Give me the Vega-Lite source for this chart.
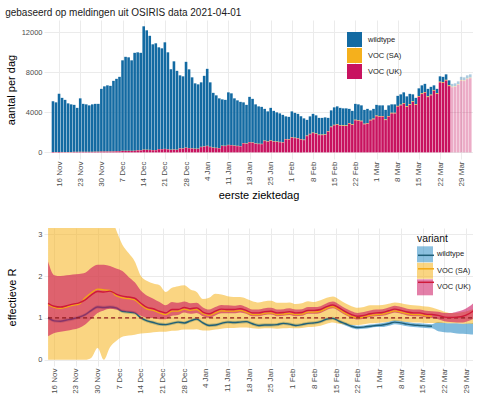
{
"$schema": "https://vega.github.io/schema/vega-lite/v6.json",
"padding": {"left": 5, "top": 8, "right": 0, "bottom": 0},
"config": {
  "font": "Liberation Sans",
  "view": {"stroke": null},
  "axis": {"grid": true, "gridColor": "#ebebeb", "gridWidth": 1, "domain": false, "ticks": false, "labelColor": "#4d4d4d", "labelFontSize": 7.5, "labelPadding": 2, "labelOverlap": false, "titleFontSize": 11, "titleFontWeight": "normal", "titleColor": "#000000"},
  "axisX": {"labelFontSize": 8},
  "legend": {"labelFontSize": 7.5, "labelColor": "#222222", "padding": 0}
},
"spacing": 27,
"resolve": {"scale": {"color": "independent", "fill": "independent", "stroke": "independent"}, "legend": {"color": "independent", "fill": "independent", "stroke": "independent"}},
"datasets": {
"bars": [
{"d":"2020-11-14","wildtype":5059,"VOC (SA)":10,"VOC (UK)":31},
{"d":"2020-11-15","wildtype":4960,"VOC (SA)":10,"VOC (UK)":30},
{"d":"2020-11-16","wildtype":5805,"VOC (SA)":10,"VOC (UK)":35},
{"d":"2020-11-17","wildtype":5407,"VOC (SA)":10,"VOC (UK)":33},
{"d":"2020-11-18","wildtype":5208,"VOC (SA)":10,"VOC (UK)":32},
{"d":"2020-11-19","wildtype":4861,"VOC (SA)":10,"VOC (UK)":29},
{"d":"2020-11-20","wildtype":4761,"VOC (SA)":10,"VOC (UK)":29},
{"d":"2020-11-21","wildtype":4692,"VOC (SA)":10,"VOC (UK)":48},
{"d":"2020-11-22","wildtype":4395,"VOC (SA)":10,"VOC (UK)":45},
{"d":"2020-11-23","wildtype":5336,"VOC (SA)":10,"VOC (UK)":54},
{"d":"2020-11-24","wildtype":4791,"VOC (SA)":10,"VOC (UK)":49},
{"d":"2020-11-25","wildtype":4742,"VOC (SA)":10,"VOC (UK)":48},
{"d":"2020-11-26","wildtype":4643,"VOC (SA)":10,"VOC (UK)":47},
{"d":"2020-11-27","wildtype":4742,"VOC (SA)":10,"VOC (UK)":48},
{"d":"2020-11-28","wildtype":4777,"VOC (SA)":15,"VOC (UK)":58},
{"d":"2020-11-29","wildtype":4777,"VOC (SA)":15,"VOC (UK)":58},
{"d":"2020-11-30","wildtype":6259,"VOC (SA)":15,"VOC (UK)":76},
{"d":"2020-12-01","wildtype":6506,"VOC (SA)":15,"VOC (UK)":79},
{"d":"2020-12-02","wildtype":6605,"VOC (SA)":15,"VOC (UK)":80},
{"d":"2020-12-03","wildtype":6555,"VOC (SA)":15,"VOC (UK)":80},
{"d":"2020-12-04","wildtype":7049,"VOC (SA)":15,"VOC (UK)":86},
{"d":"2020-12-05","wildtype":7225,"VOC (SA)":15,"VOC (UK)":110},
{"d":"2020-12-06","wildtype":7422,"VOC (SA)":15,"VOC (UK)":113},
{"d":"2020-12-07","wildtype":9047,"VOC (SA)":15,"VOC (UK)":138},
{"d":"2020-12-08","wildtype":9392,"VOC (SA)":15,"VOC (UK)":143},
{"d":"2020-12-09","wildtype":9342,"VOC (SA)":15,"VOC (UK)":143},
{"d":"2020-12-10","wildtype":9047,"VOC (SA)":15,"VOC (UK)":138},
{"d":"2020-12-11","wildtype":9786,"VOC (SA)":15,"VOC (UK)":149},
{"d":"2020-12-12","wildtype":9780,"VOC (SA)":20,"VOC (UK)":200},
{"d":"2020-12-13","wildtype":9731,"VOC (SA)":20,"VOC (UK)":199},
{"d":"2020-12-14","wildtype":12328,"VOC (SA)":20,"VOC (UK)":252},
{"d":"2020-12-15","wildtype":11936,"VOC (SA)":20,"VOC (UK)":244},
{"d":"2020-12-16","wildtype":11397,"VOC (SA)":20,"VOC (UK)":233},
{"d":"2020-12-17","wildtype":10564,"VOC (SA)":20,"VOC (UK)":216},
{"d":"2020-12-18","wildtype":10662,"VOC (SA)":20,"VOC (UK)":218},
{"d":"2020-12-19","wildtype":10165,"VOC (SA)":20,"VOC (UK)":315},
{"d":"2020-12-20","wildtype":10068,"VOC (SA)":20,"VOC (UK)":312},
{"d":"2020-12-21","wildtype":10650,"VOC (SA)":20,"VOC (UK)":330},
{"d":"2020-12-22","wildtype":9680,"VOC (SA)":20,"VOC (UK)":300},
{"d":"2020-12-23","wildtype":8031,"VOC (SA)":20,"VOC (UK)":249},
{"d":"2020-12-24","wildtype":8807,"VOC (SA)":20,"VOC (UK)":273},
{"d":"2020-12-25","wildtype":7885,"VOC (SA)":20,"VOC (UK)":245},
{"d":"2020-12-26","wildtype":7290,"VOC (SA)":25,"VOC (UK)":385},
{"d":"2020-12-27","wildtype":7195,"VOC (SA)":25,"VOC (UK)":380},
{"d":"2020-12-28","wildtype":8572,"VOC (SA)":25,"VOC (UK)":453},
{"d":"2020-12-29","wildtype":7860,"VOC (SA)":25,"VOC (UK)":415},
{"d":"2020-12-30","wildtype":7100,"VOC (SA)":25,"VOC (UK)":375},
{"d":"2020-12-31","wildtype":6530,"VOC (SA)":25,"VOC (UK)":345},
{"d":"2021-01-01","wildtype":6435,"VOC (SA)":25,"VOC (UK)":340},
{"d":"2021-01-02","wildtype":6445,"VOC (SA)":30,"VOC (UK)":525},
{"d":"2021-01-03","wildtype":7046,"VOC (SA)":30,"VOC (UK)":574},
{"d":"2021-01-04","wildtype":7694,"VOC (SA)":30,"VOC (UK)":626},
{"d":"2021-01-05","wildtype":6445,"VOC (SA)":30,"VOC (UK)":525},
{"d":"2021-01-06","wildtype":5474,"VOC (SA)":30,"VOC (UK)":446},
{"d":"2021-01-07","wildtype":5242,"VOC (SA)":30,"VOC (UK)":428},
{"d":"2021-01-08","wildtype":4965,"VOC (SA)":30,"VOC (UK)":405},
{"d":"2021-01-09","wildtype":4634,"VOC (SA)":30,"VOC (UK)":636},
{"d":"2021-01-10","wildtype":4590,"VOC (SA)":30,"VOC (UK)":630},
{"d":"2021-01-11","wildtype":5250,"VOC (SA)":30,"VOC (UK)":720},
{"d":"2021-01-12","wildtype":5162,"VOC (SA)":30,"VOC (UK)":708},
{"d":"2021-01-13","wildtype":4722,"VOC (SA)":30,"VOC (UK)":648},
{"d":"2021-01-14","wildtype":4546,"VOC (SA)":30,"VOC (UK)":624},
{"d":"2021-01-15","wildtype":4414,"VOC (SA)":30,"VOC (UK)":606},
{"d":"2021-01-16","wildtype":4065,"VOC (SA)":35,"VOC (UK)":900},
{"d":"2021-01-17","wildtype":3860,"VOC (SA)":35,"VOC (UK)":855},
{"d":"2021-01-18","wildtype":4516,"VOC (SA)":35,"VOC (UK)":999},
{"d":"2021-01-19","wildtype":4352,"VOC (SA)":35,"VOC (UK)":963},
{"d":"2021-01-20","wildtype":3901,"VOC (SA)":35,"VOC (UK)":864},
{"d":"2021-01-21","wildtype":3737,"VOC (SA)":35,"VOC (UK)":828},
{"d":"2021-01-22","wildtype":3696,"VOC (SA)":35,"VOC (UK)":819},
{"d":"2021-01-23","wildtype":3179,"VOC (SA)":40,"VOC (UK)":1131},
{"d":"2021-01-24","wildtype":2994,"VOC (SA)":40,"VOC (UK)":1066},
{"d":"2021-01-25","wildtype":3253,"VOC (SA)":40,"VOC (UK)":1157},
{"d":"2021-01-26","wildtype":3031,"VOC (SA)":40,"VOC (UK)":1079},
{"d":"2021-01-27","wildtype":2920,"VOC (SA)":40,"VOC (UK)":1040},
{"d":"2021-01-28","wildtype":2846,"VOC (SA)":40,"VOC (UK)":1014},
{"d":"2021-01-29","wildtype":2735,"VOC (SA)":40,"VOC (UK)":975},
{"d":"2021-01-30","wildtype":2259,"VOC (SA)":45,"VOC (UK)":1296},
{"d":"2021-01-31","wildtype":2227,"VOC (SA)":45,"VOC (UK)":1278},
{"d":"2021-02-01","wildtype":2579,"VOC (SA)":45,"VOC (UK)":1476},
{"d":"2021-02-02","wildtype":2483,"VOC (SA)":45,"VOC (UK)":1422},
{"d":"2021-02-03","wildtype":2419,"VOC (SA)":45,"VOC (UK)":1386},
{"d":"2021-02-04","wildtype":2259,"VOC (SA)":45,"VOC (UK)":1296},
{"d":"2021-02-05","wildtype":2131,"VOC (SA)":45,"VOC (UK)":1224},
{"d":"2021-02-06","wildtype":1575,"VOC (SA)":50,"VOC (UK)":1625},
{"d":"2021-02-07","wildtype":1750,"VOC (SA)":50,"VOC (UK)":1800},
{"d":"2021-02-08","wildtype":1875,"VOC (SA)":50,"VOC (UK)":1925},
{"d":"2021-02-09","wildtype":1800,"VOC (SA)":50,"VOC (UK)":1850},
{"d":"2021-02-10","wildtype":1675,"VOC (SA)":50,"VOC (UK)":1725},
{"d":"2021-02-11","wildtype":1675,"VOC (SA)":50,"VOC (UK)":1725},
{"d":"2021-02-12","wildtype":1700,"VOC (SA)":50,"VOC (UK)":1750},
{"d":"2021-02-13","wildtype":1325,"VOC (SA)":55,"VOC (UK)":2070},
{"d":"2021-02-14","wildtype":1625,"VOC (SA)":55,"VOC (UK)":2520},
{"d":"2021-02-15","wildtype":1745,"VOC (SA)":55,"VOC (UK)":2700},
{"d":"2021-02-16","wildtype":1785,"VOC (SA)":55,"VOC (UK)":2760},
{"d":"2021-02-17","wildtype":1725,"VOC (SA)":55,"VOC (UK)":2670},
{"d":"2021-02-18","wildtype":1705,"VOC (SA)":55,"VOC (UK)":2640},
{"d":"2021-02-19","wildtype":1705,"VOC (SA)":55,"VOC (UK)":2640},
{"d":"2021-02-20","wildtype":1419,"VOC (SA)":60,"VOC (UK)":2871},
{"d":"2021-02-21","wildtype":1351,"VOC (SA)":60,"VOC (UK)":2739},
{"d":"2021-02-22","wildtype":1589,"VOC (SA)":60,"VOC (UK)":3201},
{"d":"2021-02-23","wildtype":1572,"VOC (SA)":60,"VOC (UK)":3168},
{"d":"2021-02-24","wildtype":1538,"VOC (SA)":60,"VOC (UK)":3102},
{"d":"2021-02-25","wildtype":1385,"VOC (SA)":60,"VOC (UK)":2805},
{"d":"2021-02-26","wildtype":1419,"VOC (SA)":60,"VOC (UK)":2871},
{"d":"2021-02-27","wildtype":943,"VOC (SA)":65,"VOC (UK)":3192},
{"d":"2021-02-28","wildtype":979,"VOC (SA)":65,"VOC (UK)":3306},
{"d":"2021-03-01","wildtype":1075,"VOC (SA)":65,"VOC (UK)":3610},
{"d":"2021-03-02","wildtype":1063,"VOC (SA)":65,"VOC (UK)":3572},
{"d":"2021-03-03","wildtype":1063,"VOC (SA)":65,"VOC (UK)":3572},
{"d":"2021-03-04","wildtype":955,"VOC (SA)":65,"VOC (UK)":3230},
{"d":"2021-03-05","wildtype":1063,"VOC (SA)":65,"VOC (UK)":3572},
{"d":"2021-03-06","wildtype":842,"VOC (SA)":70,"VOC (UK)":3888},
{"d":"2021-03-07","wildtype":842,"VOC (SA)":70,"VOC (UK)":3888},
{"d":"2021-03-08","wildtype":1003,"VOC (SA)":70,"VOC (UK)":4577},
{"d":"2021-03-09","wildtype":1032,"VOC (SA)":70,"VOC (UK)":4698},
{"d":"2021-03-10","wildtype":1070,"VOC (SA)":70,"VOC (UK)":4860},
{"d":"2021-03-11","wildtype":994,"VOC (SA)":70,"VOC (UK)":4536},
{"d":"2021-03-12","wildtype":1041,"VOC (SA)":70,"VOC (UK)":4739},
{"d":"2021-03-13","wildtype":684,"VOC (SA)":70,"VOC (UK)":5046},
{"d":"2021-03-14","wildtype":638,"VOC (SA)":70,"VOC (UK)":4742},
{"d":"2021-03-15","wildtype":762,"VOC (SA)":70,"VOC (UK)":5568},
{"d":"2021-03-16","wildtype":801,"VOC (SA)":70,"VOC (UK)":5829},
{"d":"2021-03-17","wildtype":820,"VOC (SA)":70,"VOC (UK)":5960},
{"d":"2021-03-18","wildtype":755,"VOC (SA)":70,"VOC (UK)":5525},
{"d":"2021-03-19","wildtype":781,"VOC (SA)":70,"VOC (UK)":5699},
{"d":"2021-03-20","wildtype":461,"VOC (SA)":75,"VOC (UK)":6164},
{"d":"2021-03-21","wildtype":433,"VOC (SA)":75,"VOC (UK)":5842},
{"d":"2021-03-22","wildtype":533,"VOC (SA)":75,"VOC (UK)":6992},
{"d":"2021-03-23","wildtype":529,"VOC (SA)":75,"VOC (UK)":6946},
{"d":"2021-03-24","wildtype":549,"VOC (SA)":75,"VOC (UK)":7176},
{"d":"2021-03-25","wildtype":501,"VOC (SA)":75,"VOC (UK)":6624},
{"d":"2021-03-26","wildtype":272,"VOC (SA)":70,"VOC (UK)":6508,"inc":true},
{"d":"2021-03-27","wildtype":275,"VOC (SA)":70,"VOC (UK)":6555,"inc":true},
{"d":"2021-03-28","wildtype":285,"VOC (SA)":70,"VOC (UK)":6745,"inc":true},
{"d":"2021-03-29","wildtype":307,"VOC (SA)":70,"VOC (UK)":7173,"inc":true},
{"d":"2021-03-30","wildtype":305,"VOC (SA)":70,"VOC (UK)":7125,"inc":true},
{"d":"2021-03-31","wildtype":315,"VOC (SA)":70,"VOC (UK)":7315,"inc":true},
{"d":"2021-04-01","wildtype":320,"VOC (SA)":70,"VOC (UK)":7410,"inc":true}
],
"r": [
{"d":"2020-11-14","w":1.00,"wl":0.96,"wh":1.04,"s":1.32,"sl":0,"sh":3.6,"u":1.35,"ul":0.56,"uh":2.35},
{"d":"2020-11-16","w":0.93,"wl":0.89,"wh":0.97,"s":1.25,"sl":0,"sh":3.6,"u":1.28,"ul":0.64,"uh":2.02},
{"d":"2020-11-18","w":0.92,"wl":0.88,"wh":0.96,"s":1.23,"sl":0,"sh":3.6,"u":1.26,"ul":0.67,"uh":2.0},
{"d":"2020-11-20","w":0.95,"wl":0.91,"wh":0.99,"s":1.26,"sl":0,"sh":3.6,"u":1.29,"ul":0.69,"uh":2.02},
{"d":"2020-11-22","w":0.98,"wl":0.94,"wh":1.02,"s":1.30,"sl":0,"sh":3.6,"u":1.33,"ul":0.72,"uh":2.04},
{"d":"2020-11-24","w":1.02,"wl":0.98,"wh":1.06,"s":1.33,"sl":0,"sh":3.6,"u":1.36,"ul":0.76,"uh":2.05},
{"d":"2020-11-26","w":1.08,"wl":1.04,"wh":1.12,"s":1.48,"sl":0,"sh":3.6,"u":1.43,"ul":0.84,"uh":2.08},
{"d":"2020-11-28","w":1.18,"wl":1.14,"wh":1.22,"s":1.60,"sl":0.05,"sh":3.6,"u":1.55,"ul":0.98,"uh":2.2},
{"d":"2020-11-30","w":1.26,"wl":1.22,"wh":1.30,"s":1.69,"sl":0.28,"sh":3.6,"u":1.63,"ul":1.12,"uh":2.27},
{"d":"2020-12-02","w":1.25,"wl":1.21,"wh":1.29,"s":1.67,"sl":0,"sh":3.6,"u":1.62,"ul":1.18,"uh":2.27},
{"d":"2020-12-04","w":1.26,"wl":1.22,"wh":1.30,"s":1.66,"sl":0.3,"sh":3.5,"u":1.64,"ul":1.22,"uh":2.24},
{"d":"2020-12-06","w":1.24,"wl":1.20,"wh":1.28,"s":1.53,"sl":0.45,"sh":3.1,"u":1.57,"ul":1.2,"uh":2.18},
{"d":"2020-12-08","w":1.16,"wl":1.12,"wh":1.20,"s":1.48,"sl":0.55,"sh":2.75,"u":1.52,"ul":1.16,"uh":2.12},
{"d":"2020-12-10","w":1.14,"wl":1.10,"wh":1.18,"s":1.46,"sl":0.58,"sh":2.55,"u":1.50,"ul":1.15,"uh":1.98},
{"d":"2020-12-12","w":1.12,"wl":1.08,"wh":1.16,"s":1.43,"sl":0.6,"sh":2.35,"u":1.47,"ul":1.12,"uh":1.85},
{"d":"2020-12-14","w":1.00,"wl":0.96,"wh":1.04,"s":1.31,"sl":0.63,"sh":2.0,"u":1.35,"ul":1.05,"uh":1.65},
{"d":"2020-12-16","w":0.93,"wl":0.89,"wh":0.97,"s":1.21,"sl":0.64,"sh":1.88,"u":1.25,"ul":1.0,"uh":1.53},
{"d":"2020-12-18","w":0.89,"wl":0.85,"wh":0.93,"s":1.18,"sl":0.66,"sh":1.82,"u":1.22,"ul":1.0,"uh":1.46},
{"d":"2020-12-20","w":0.85,"wl":0.81,"wh":0.89,"s":1.12,"sl":0.67,"sh":1.78,"u":1.16,"ul":0.97,"uh":1.38},
{"d":"2020-12-22","w":0.84,"wl":0.80,"wh":0.88,"s":1.08,"sl":0.67,"sh":1.62,"u":1.12,"ul":0.97,"uh":1.30},
{"d":"2020-12-24","w":0.87,"wl":0.83,"wh":0.91,"s":1.16,"sl":0.69,"sh":1.72,"u":1.20,"ul":1.05,"uh":1.38},
{"d":"2020-12-26","w":0.90,"wl":0.86,"wh":0.94,"s":1.16,"sl":0.70,"sh":1.76,"u":1.20,"ul":1.07,"uh":1.36},
{"d":"2020-12-28","w":0.88,"wl":0.84,"wh":0.92,"s":1.21,"sl":0.72,"sh":1.78,"u":1.25,"ul":1.13,"uh":1.39},
{"d":"2020-12-30","w":0.93,"wl":0.89,"wh":0.97,"s":1.18,"sl":0.72,"sh":1.68,"u":1.22,"ul":1.10,"uh":1.35},
{"d":"2021-01-01","w":0.97,"wl":0.93,"wh":1.01,"s":1.20,"sl":0.73,"sh":1.62,"u":1.24,"ul":1.12,"uh":1.36},
{"d":"2021-01-03","w":0.88,"wl":0.84,"wh":0.92,"s":1.10,"sl":0.70,"sh":1.45,"u":1.14,"ul":1.04,"uh":1.25},
{"d":"2021-01-05","w":0.82,"wl":0.78,"wh":0.86,"s":1.06,"sl":0.70,"sh":1.48,"u":1.10,"ul":1.0,"uh":1.20},
{"d":"2021-01-07","w":0.83,"wl":0.79,"wh":0.87,"s":1.12,"sl":0.72,"sh":1.58,"u":1.16,"ul":1.06,"uh":1.26},
{"d":"2021-01-09","w":0.87,"wl":0.83,"wh":0.91,"s":1.17,"sl":0.74,"sh":1.56,"u":1.21,"ul":1.11,"uh":1.31},
{"d":"2021-01-11","w":0.90,"wl":0.86,"wh":0.94,"s":1.16,"sl":0.76,"sh":1.52,"u":1.20,"ul":1.11,"uh":1.30},
{"d":"2021-01-13","w":0.89,"wl":0.85,"wh":0.93,"s":1.16,"sl":0.76,"sh":1.50,"u":1.20,"ul":1.11,"uh":1.29},
{"d":"2021-01-15","w":0.90,"wl":0.86,"wh":0.94,"s":1.18,"sl":0.77,"sh":1.50,"u":1.22,"ul":1.13,"uh":1.31},
{"d":"2021-01-17","w":0.91,"wl":0.87,"wh":0.95,"s":1.14,"sl":0.77,"sh":1.46,"u":1.18,"ul":1.10,"uh":1.26},
{"d":"2021-01-19","w":0.86,"wl":0.82,"wh":0.90,"s":1.08,"sl":0.75,"sh":1.40,"u":1.12,"ul":1.04,"uh":1.20},
{"d":"2021-01-21","w":0.82,"wl":0.78,"wh":0.86,"s":1.08,"sl":0.74,"sh":1.37,"u":1.12,"ul":1.04,"uh":1.20},
{"d":"2021-01-23","w":0.83,"wl":0.79,"wh":0.87,"s":1.11,"sl":0.75,"sh":1.40,"u":1.15,"ul":1.07,"uh":1.23},
{"d":"2021-01-25","w":0.83,"wl":0.79,"wh":0.87,"s":1.12,"sl":0.75,"sh":1.41,"u":1.16,"ul":1.08,"uh":1.24},
{"d":"2021-01-27","w":0.84,"wl":0.80,"wh":0.88,"s":1.08,"sl":0.74,"sh":1.36,"u":1.12,"ul":1.04,"uh":1.20},
{"d":"2021-01-29","w":0.87,"wl":0.83,"wh":0.91,"s":1.09,"sl":0.75,"sh":1.36,"u":1.13,"ul":1.05,"uh":1.21},
{"d":"2021-01-31","w":0.85,"wl":0.81,"wh":0.89,"s":1.11,"sl":0.76,"sh":1.37,"u":1.15,"ul":1.07,"uh":1.23},
{"d":"2021-02-02","w":0.82,"wl":0.78,"wh":0.86,"s":1.08,"sl":0.75,"sh":1.33,"u":1.12,"ul":1.04,"uh":1.20},
{"d":"2021-02-04","w":0.84,"wl":0.80,"wh":0.88,"s":1.09,"sl":0.76,"sh":1.35,"u":1.13,"ul":1.05,"uh":1.21},
{"d":"2021-02-06","w":0.87,"wl":0.83,"wh":0.91,"s":1.14,"sl":0.78,"sh":1.40,"u":1.18,"ul":1.10,"uh":1.26},
{"d":"2021-02-08","w":0.88,"wl":0.84,"wh":0.92,"s":1.14,"sl":0.79,"sh":1.38,"u":1.18,"ul":1.10,"uh":1.26},
{"d":"2021-02-10","w":0.91,"wl":0.87,"wh":0.95,"s":1.16,"sl":0.81,"sh":1.42,"u":1.20,"ul":1.12,"uh":1.28},
{"d":"2021-02-12","w":0.97,"wl":0.93,"wh":1.01,"s":1.23,"sl":0.86,"sh":1.48,"u":1.27,"ul":1.19,"uh":1.35},
{"d":"2021-02-14","w":0.99,"wl":0.95,"wh":1.03,"s":1.27,"sl":0.89,"sh":1.51,"u":1.31,"ul":1.23,"uh":1.39},
{"d":"2021-02-16","w":0.92,"wl":0.88,"wh":0.96,"s":1.20,"sl":0.86,"sh":1.44,"u":1.24,"ul":1.16,"uh":1.32},
{"d":"2021-02-18","w":0.86,"wl":0.82,"wh":0.90,"s":1.11,"sl":0.84,"sh":1.35,"u":1.15,"ul":1.07,"uh":1.23},
{"d":"2021-02-20","w":0.80,"wl":0.76,"wh":0.84,"s":1.04,"sl":0.83,"sh":1.28,"u":1.08,"ul":1.00,"uh":1.16},
{"d":"2021-02-22","w":0.77,"wl":0.73,"wh":0.81,"s":1.00,"sl":0.83,"sh":1.24,"u":1.04,"ul":0.96,"uh":1.12},
{"d":"2021-02-24","w":0.78,"wl":0.74,"wh":0.82,"s":1.02,"sl":0.85,"sh":1.26,"u":1.06,"ul":0.98,"uh":1.14},
{"d":"2021-02-26","w":0.80,"wl":0.76,"wh":0.84,"s":1.06,"sl":0.87,"sh":1.30,"u":1.10,"ul":1.02,"uh":1.18},
{"d":"2021-02-28","w":0.82,"wl":0.78,"wh":0.86,"s":1.08,"sl":0.88,"sh":1.30,"u":1.12,"ul":1.04,"uh":1.20},
{"d":"2021-03-02","w":0.83,"wl":0.78,"wh":0.88,"s":1.09,"sl":0.89,"sh":1.31,"u":1.13,"ul":1.05,"uh":1.21},
{"d":"2021-03-04","w":0.86,"wl":0.81,"wh":0.91,"s":1.13,"sl":0.91,"sh":1.34,"u":1.17,"ul":1.09,"uh":1.25},
{"d":"2021-03-06","w":0.90,"wl":0.85,"wh":0.95,"s":1.17,"sl":0.93,"sh":1.37,"u":1.21,"ul":1.13,"uh":1.29},
{"d":"2021-03-08","w":0.88,"wl":0.83,"wh":0.93,"s":1.14,"sl":0.92,"sh":1.35,"u":1.18,"ul":1.10,"uh":1.26},
{"d":"2021-03-10","w":0.85,"wl":0.80,"wh":0.90,"s":1.10,"sl":0.90,"sh":1.32,"u":1.14,"ul":1.06,"uh":1.22},
{"d":"2021-03-12","w":0.83,"wl":0.78,"wh":0.88,"s":1.08,"sl":0.89,"sh":1.30,"u":1.12,"ul":1.04,"uh":1.20},
{"d":"2021-03-14","w":0.82,"wl":0.77,"wh":0.87,"s":1.08,"sl":0.89,"sh":1.29,"u":1.12,"ul":1.04,"uh":1.20},
{"d":"2021-03-16","w":0.81,"wl":0.76,"wh":0.86,"s":1.05,"sl":0.88,"sh":1.27,"u":1.09,"ul":1.01,"uh":1.17},
{"d":"2021-03-18","w":0.80,"wl":0.75,"wh":0.85,"s":1.04,"sl":0.88,"sh":1.25,"u":1.08,"ul":1.00,"uh":1.16},
{"d":"2021-03-20","w":null,"wl":0.68,"wh":0.90,"s":null,"sl":0.88,"sh":1.20,"u":1.06,"ul":0.97,"uh":1.15},
{"d":"2021-03-22","w":null,"wl":0.66,"wh":0.88,"s":null,"sl":0.88,"sh":1.15,"u":1.02,"ul":0.92,"uh":1.12},
{"d":"2021-03-24","w":null,"wl":0.65,"wh":0.87,"s":null,"sl":0.87,"sh":1.12,"u":1.01,"ul":0.90,"uh":1.12},
{"d":"2021-03-26","w":null,"wl":0.63,"wh":0.87,"s":null,"sl":0.87,"sh":1.12,"u":1.02,"ul":0.89,"uh":1.15},
{"d":"2021-03-28","w":null,"wl":0.62,"wh":0.86,"s":null,"sl":0.86,"sh":1.14,"u":1.04,"ul":0.89,"uh":1.19},
{"d":"2021-03-30","w":null,"wl":0.61,"wh":0.87,"s":null,"sl":0.86,"sh":1.18,"u":1.10,"ul":0.93,"uh":1.27},
{"d":"2021-04-01","w":null,"wl":0.60,"wh":0.88,"s":null,"sl":0.85,"sh":1.22,"u":1.20,"ul":1.00,"uh":1.40}
]
},
"vconcat": [
{
  "width": 429, "height": 139,
  "title": {"text": "gebaseerd op meldingen uit OSIRIS data 2021-04-01", "anchor": "start", "fontSize": 10, "fontWeight": "normal", "color": "#1a1a1a", "offset": 2},
  "data": {"name": "bars"},
  "transform": [
    {"fold": ["wildtype", "VOC (SA)", "VOC (UK)"], "as": ["variant", "n"]},
    {"calculate": "datum.variant === 'VOC (UK)' ? 0 : (datum.variant === 'VOC (SA)' ? 1 : 2)", "as": "ord"}
  ],
  "mark": {"type": "bar", "width": 2.6, "clip": true},
  "encoding": {
    "x": {"field": "d", "type": "temporal",
      "scale": {"type": "utc", "domain": [1605198000000, 1617170400000]},
      "axis": {"labelExpr": "utcFormat(datum.value, '%-d %b')", "labelAngle": 270, "labelOverlap": false, "title": "eerste ziektedag", "titlePadding": 3,
        "values": [1605484800000, 1606089600000, 1606694400000, 1607299200000, 1607904000000, 1608508800000, 1609113600000, 1609718400000, 1610323200000, 1610928000000, 1611532800000, 1612137600000, 1612742400000, 1613347200000, 1613952000000, 1614556800000, 1615161600000, 1615766400000, 1616371200000, 1616976000000]}},
    "y": {"field": "n", "type": "quantitative", "stack": "zero",
      "scale": {"domain": [-660, 13230], "nice": false, "zero": false},
      "axis": {"values": [0, 4000, 8000, 12000], "format": "d", "title": "aantal per dag", "titlePadding": 5}},
    "color": {"field": "variant", "type": "nominal",
      "scale": {"domain": ["wildtype", "VOC (SA)", "VOC (UK)"], "range": ["#136aa2", "#f5b01c", "#c8125f"]},
      "legend": {"title": null, "orient": "none", "legendX": 303, "legendY": 12, "symbolType": "square", "symbolSize": 225, "symbolStrokeWidth": 0, "rowPadding": 1, "labelOffset": 6, "labelFontSize": 7.5}},
    "order": {"field": "ord", "type": "quantitative"},
    "opacity": {"condition": {"test": "datum.inc", "value": 0.35}, "value": 1}
  }
},
{
  "width": 429, "height": 138,
  "data": {"name": "r"},
  "encoding": {
    "x": {"field": "d", "type": "temporal",
      "scale": {"type": "utc", "domain": [1605198000000, 1617170400000]},
      "axis": {"labelExpr": "utcFormat(datum.value, '%-d %b')", "labelAngle": 270, "labelOverlap": false, "title": null,
        "values": [1605484800000, 1606089600000, 1606694400000, 1607299200000, 1607904000000, 1608508800000, 1609113600000, 1609718400000, 1610323200000, 1610928000000, 1611532800000, 1612137600000, 1612742400000, 1613347200000, 1613952000000, 1614556800000, 1615161600000, 1615766400000, 1616371200000, 1616976000000]}}
  },
  "layer": [
    {"mark": {"type": "area", "opacity": 0.6, "clip": true, "interpolate": "monotone"},
     "encoding": {
       "y": {"field": "wl", "type": "quantitative", "scale": {"domain": [-0.15, 3.15], "nice": false, "zero": false},
         "axis": {"values": [0, 1, 2, 3], "title": "effectieve R", "titleX": -27}},
       "y2": {"field": "wh"},
       "fill": {"datum": "wildtype", "type": "nominal",
         "scale": {"domain": ["wildtype", "VOC (SA)", "VOC (UK)"], "range": ["#2b8cc4", "#f6b21b", "#cc1660"]},
         "legend": {"title": "variant", "orient": "none", "legendX": 373, "legendY": 6, "symbolType": "square", "symbolSize": 256, "symbolStrokeWidth": 0, "symbolOpacity": 0.6, "titleFontSize": 10.3, "titleFontWeight": "normal", "titleColor": "#111111", "titlePadding": 2, "rowPadding": 0.5, "labelOffset": 4, "labelFontSize": 7.5}}
     }},
    {"mark": {"type": "area", "opacity": 0.55, "clip": true, "interpolate": "monotone"},
     "encoding": {
       "y": {"field": "sl", "type": "quantitative"},
       "y2": {"field": "sh"},
       "fill": {"datum": "VOC (SA)", "type": "nominal"}
     }},
    {"mark": {"type": "line", "strokeWidth": 1.4, "clip": true, "interpolate": "monotone"},
     "encoding": {
       "y": {"field": "w", "type": "quantitative"},
       "stroke": {"datum": "wildtype", "type": "nominal",
         "scale": {"domain": ["VOC (UK)", "VOC (SA)", "wildtype"], "range": ["#cf1a3a", "#f3a812", "#1f5f78"]},
         "legend": {"title": null, "orient": "none", "legendX": 373, "legendY": 18.3, "values": ["wildtype", "VOC (SA)", "VOC (UK)"], "symbolType": "stroke", "symbolSize": 256, "symbolStrokeWidth": 1.5, "labelExpr": "''", "rowPadding": 0.5, "labelOffset": 4, "labelFontSize": 7.5}}
     }},
    {"mark": {"type": "area", "opacity": 0.6, "clip": true, "interpolate": "monotone"},
     "encoding": {
       "y": {"field": "ul", "type": "quantitative"},
       "y2": {"field": "uh"},
       "fill": {"datum": "VOC (UK)", "type": "nominal"}
     }},
    {"mark": {"type": "line", "strokeWidth": 1.3, "clip": true, "interpolate": "monotone"},
     "encoding": {
       "y": {"field": "s", "type": "quantitative"},
       "stroke": {"datum": "VOC (SA)", "type": "nominal"}
     }},
    {"mark": {"type": "line", "strokeDash": [4, 3], "color": "#901a1e", "strokeWidth": 1.1, "clip": true},
     "encoding": {"y": {"datum": 1, "type": "quantitative"}}},
    {"mark": {"type": "line", "strokeWidth": 1.4, "clip": true, "interpolate": "monotone"},
     "encoding": {
       "y": {"field": "u", "type": "quantitative"},
       "stroke": {"datum": "VOC (UK)", "type": "nominal"}
     }}
  ]
}
]
}
